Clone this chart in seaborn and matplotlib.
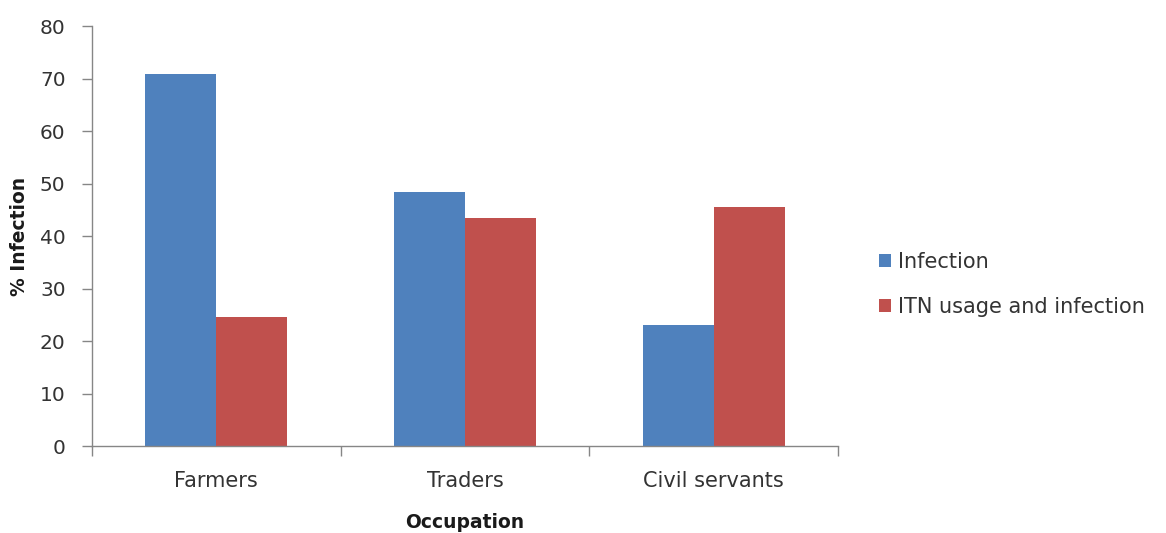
import matplotlib
matplotlib.use("Agg")
import matplotlib.pyplot as plt
import seaborn as sns
import pandas as pd

# Data
occupations = ["Farmers", "Traders", "Civil servants"]
infection = [70.9, 48.4, 23.0]
itn_infection = [24.5, 43.5, 45.5]
series_names = ["Infection", "ITN usage and infection"]
y_ticks = [0, 10, 20, 30, 40, 50, 60, 70, 80]

df = pd.DataFrame({
    "Occupation": occupations * 2,
    "value": infection + itn_infection,
    "series": [series_names[0]] * 3 + [series_names[1]] * 3,
})

sns.set_theme(style="white")
plt.rcParams["font.family"] = ["DejaVu Sans"]

fig = plt.figure(figsize=(11.66, 5.33), dpi=100)
ax = fig.add_axes([0.0789, 0.1632, 0.7187 - 0.0789, 0.9512 - 0.1632])

palette = {series_names[0]: "#4F81BD", series_names[1]: "#C0504D"}
sns.barplot(data=df, x="Occupation", y="value", hue="series", order=occupations,
            hue_order=series_names, palette=palette, width=0.57, gap=0,
            saturation=1, edgecolor="none", linewidth=0, ax=ax, legend=True)

axis_grey = "#868686"
text_col = "#333333"
ax.set_xlim(-0.5, 2.5)
ax.set_ylim(0, 80)
ax.set_yticks(y_ticks)
for s in ["top", "right"]:
    ax.spines[s].set_visible(False)
for s in ["left", "bottom"]:
    ax.spines[s].set_color(axis_grey)
    ax.spines[s].set_linewidth(1.0)

ax.tick_params(axis="y", which="major", direction="out", length=7, width=1,
               color=axis_grey, labelsize=14.5, labelcolor=text_col, pad=12, left=True)
ax.set_xticks([-0.5, 0.5, 1.5, 2.5], minor=True)
ax.tick_params(axis="x", which="minor", direction="out", length=7, width=1,
               color=axis_grey, bottom=True)
ax.tick_params(axis="x", which="major", length=0, labelsize=15,
               labelcolor=text_col, pad=18)

ax.set_xlabel("Occupation", fontsize=13.5, fontweight="bold", color="#1a1a1a", labelpad=16)
ax.set_ylabel("% Infection", fontsize=13.5, fontweight="bold", color="#1a1a1a", labelpad=8)

handles, labels = ax.get_legend_handles_labels()
ax.get_legend().remove()
fig.legend(handles, labels, loc="center left", bbox_to_anchor=(0.7375, 0.466),
           frameon=False, fontsize=15, labelspacing=1.2, handlelength=0.6,
           handleheight=0.6, handletextpad=0.35, labelcolor=text_col)

fig.savefig("out.png", dpi=100)
